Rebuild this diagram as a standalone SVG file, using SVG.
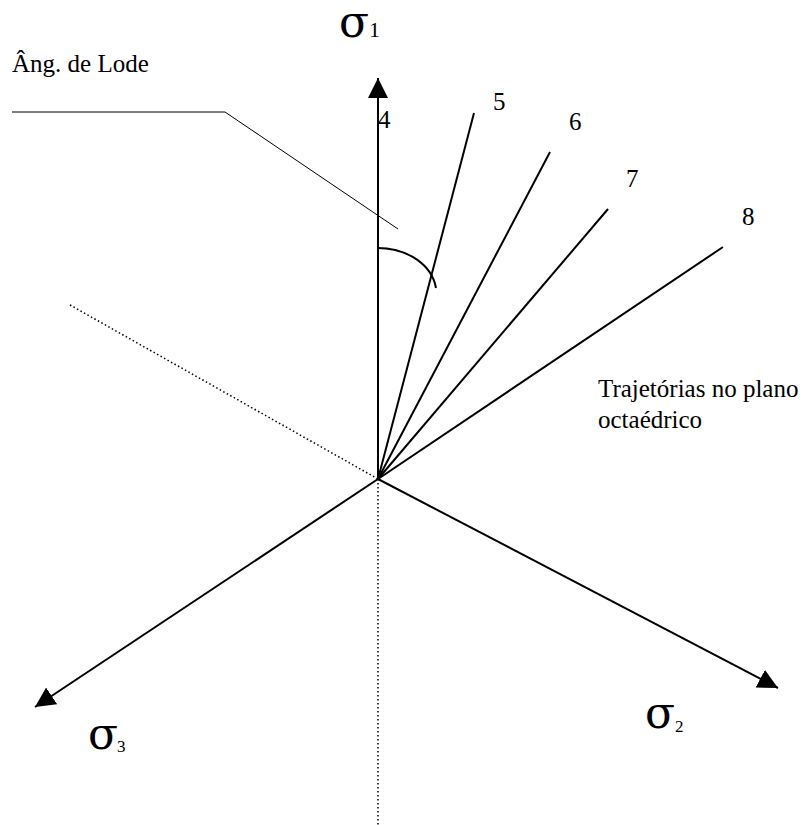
<svg xmlns="http://www.w3.org/2000/svg" width="808" height="825" viewBox="0 0 808 825">
<style>
.ax{stroke:#000;stroke-width:2;fill:none}
.tr{stroke:#000;stroke-width:2;fill:none}
.dot{stroke:#000;stroke-width:1.5;stroke-dasharray:1.5 2.5;fill:none}
.thin{stroke:#000;stroke-width:1;fill:none}
.t{font-family:"Liberation Serif","Times New Roman",serif;fill:#000}
.lab{font-size:25px}
.sig{font-family:"DejaVu Serif","Liberation Serif",serif;font-size:44px;fill:#000}
.sub{font-size:17px}
</style>
<defs>
<marker id="arr" markerUnits="userSpaceOnUse" markerWidth="21" markerHeight="21" refX="20" refY="10" orient="auto">
<path d="M0,0 L20,10 L0,20 z" fill="#000"/>
</marker>
</defs>
<rect width="808" height="825" fill="#fff"/>
<g id="connectors">
<line class="dot" x1="70" y1="305" x2="378" y2="479"/>
<line class="dot" x1="378" y1="479" x2="378" y2="825"/>
<line class="ax" x1="378" y1="479" x2="378" y2="78" marker-end="url(#arr)"/>
<line class="ax" x1="378" y1="479" x2="35" y2="707" marker-end="url(#arr)"/>
<line class="ax" x1="378" y1="479" x2="778" y2="688" marker-end="url(#arr)"/>
<line class="tr" x1="378" y1="479" x2="474" y2="113"/>
<line class="tr" x1="378" y1="479" x2="550" y2="152"/>
<line class="tr" x1="378" y1="479" x2="608" y2="209"/>
<line class="tr" x1="378" y1="479" x2="723" y2="247"/>
<path class="thin" d="M12,112 L225,112 L398,229"/>
<path class="ax" d="M377,248 C408,248 432,265 436,288"/>
</g>
<g id="sigma1"><text class="sig" x="339" y="37">σ</text><text class="t" style="font-size:22px" x="369" y="37">1</text></g>
<g id="sigma2"><text class="sig" x="645" y="728">σ</text><text class="t sub" x="675" y="732">2</text></g>
<g id="sigma3"><text class="sig" x="88" y="749">σ</text><text class="t sub" x="117" y="752">3</text></g>
<g id="lode"><text class="t lab" x="12" y="72">Âng. de Lode</text></g>
<g id="n4"><text class="t lab" x="378" y="128">4</text></g>
<g id="n5"><text class="t lab" x="493" y="110">5</text></g>
<g id="n6"><text class="t lab" x="569" y="130">6</text></g>
<g id="n7"><text class="t lab" x="626" y="187">7</text></g>
<g id="n8"><text class="t lab" x="742" y="225">8</text></g>
<g id="traj"><text class="t lab" x="598" y="397">Trajetórias no plano</text><text class="t lab" x="598" y="428">octaédrico</text></g>
</svg>
